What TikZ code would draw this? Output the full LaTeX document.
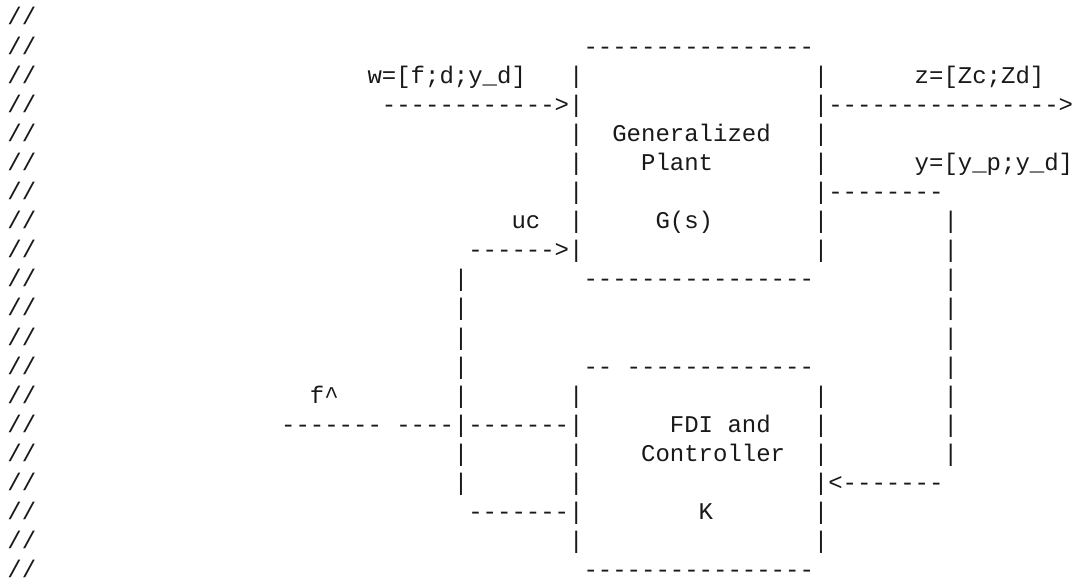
\documentclass[tikz,border=0pt]{standalone}
\usepackage{fontspec}
\setmonofont{Liberation Mono}
\tikzset{
  txt/.style={anchor=base west, inner sep=0pt, outer sep=0pt, text=black!90,
    font=\ttfamily\fontsize{24}{29}\selectfont}
}
% \T{col}{row}{text}: place text at a character cell of the grid
\newcommand\T[3]{\node[txt] (r#2c#1) at ({7.5+#1*14.4},{556-#2*29.1}) {#3};}
\begin{document}
\begin{tikzpicture}[x=1pt,y=1pt]
\fill[white] (0,0) rectangle (1072,581);
\useasboundingbox (0,0) rectangle (1072,581);
% comment marks
\foreach \r in {0,...,19} { \T{0}{\r}{//} }
% row 1
\T{40}{1}{----------------}
% row 2
\T{25}{2}{w=[f;d;y\_d]} \T{39}{2}{|} \T{56}{2}{|} \T{63}{2}{z=[Zc;Zd]}
% row 3
\T{26}{3}{------------>|} \T{56}{3}{|---------------->}
% row 4
\T{39}{4}{|} \T{42}{4}{Generalized} \T{56}{4}{|}
% row 5
\T{39}{5}{|} \T{44}{5}{Plant} \T{56}{5}{|} \T{63}{5}{y=[y\_p;y\_d]}
% row 6
\T{39}{6}{|} \T{56}{6}{|--------}
% row 7
\T{35}{7}{uc} \T{39}{7}{|} \T{45}{7}{G(s)} \T{56}{7}{|} \T{65}{7}{|}
% row 8
\T{32}{8}{------>|} \T{56}{8}{|} \T{65}{8}{|}
% row 9
\T{31}{9}{|} \T{40}{9}{----------------} \T{65}{9}{|}
% rows 10-11
\T{31}{10}{|} \T{65}{10}{|}
\T{31}{11}{|} \T{65}{11}{|}
% row 12
\T{31}{12}{|} \T{40}{12}{--} \T{43}{12}{-------------} \T{65}{12}{|}
% row 13
\T{21}{13}{f\textasciicircum} \T{31}{13}{|} \T{39}{13}{|} \T{56}{13}{|} \T{65}{13}{|}
% row 14
\T{19}{14}{-------} \T{27}{14}{----|-------|} \T{46}{14}{FDI and} \T{56}{14}{|} \T{65}{14}{|}
% row 15
\T{31}{15}{|} \T{39}{15}{|} \T{44}{15}{Controller} \T{56}{15}{|} \T{65}{15}{|}
% row 16
\T{31}{16}{|} \T{39}{16}{|} \T{56}{16}{|<-------}
% row 17
\T{32}{17}{-------|} \T{48}{17}{K} \T{56}{17}{|}
% row 18
\T{39}{18}{|} \T{56}{18}{|}
% row 19
\T{40}{19}{----------------}
\end{tikzpicture}
\end{document}
